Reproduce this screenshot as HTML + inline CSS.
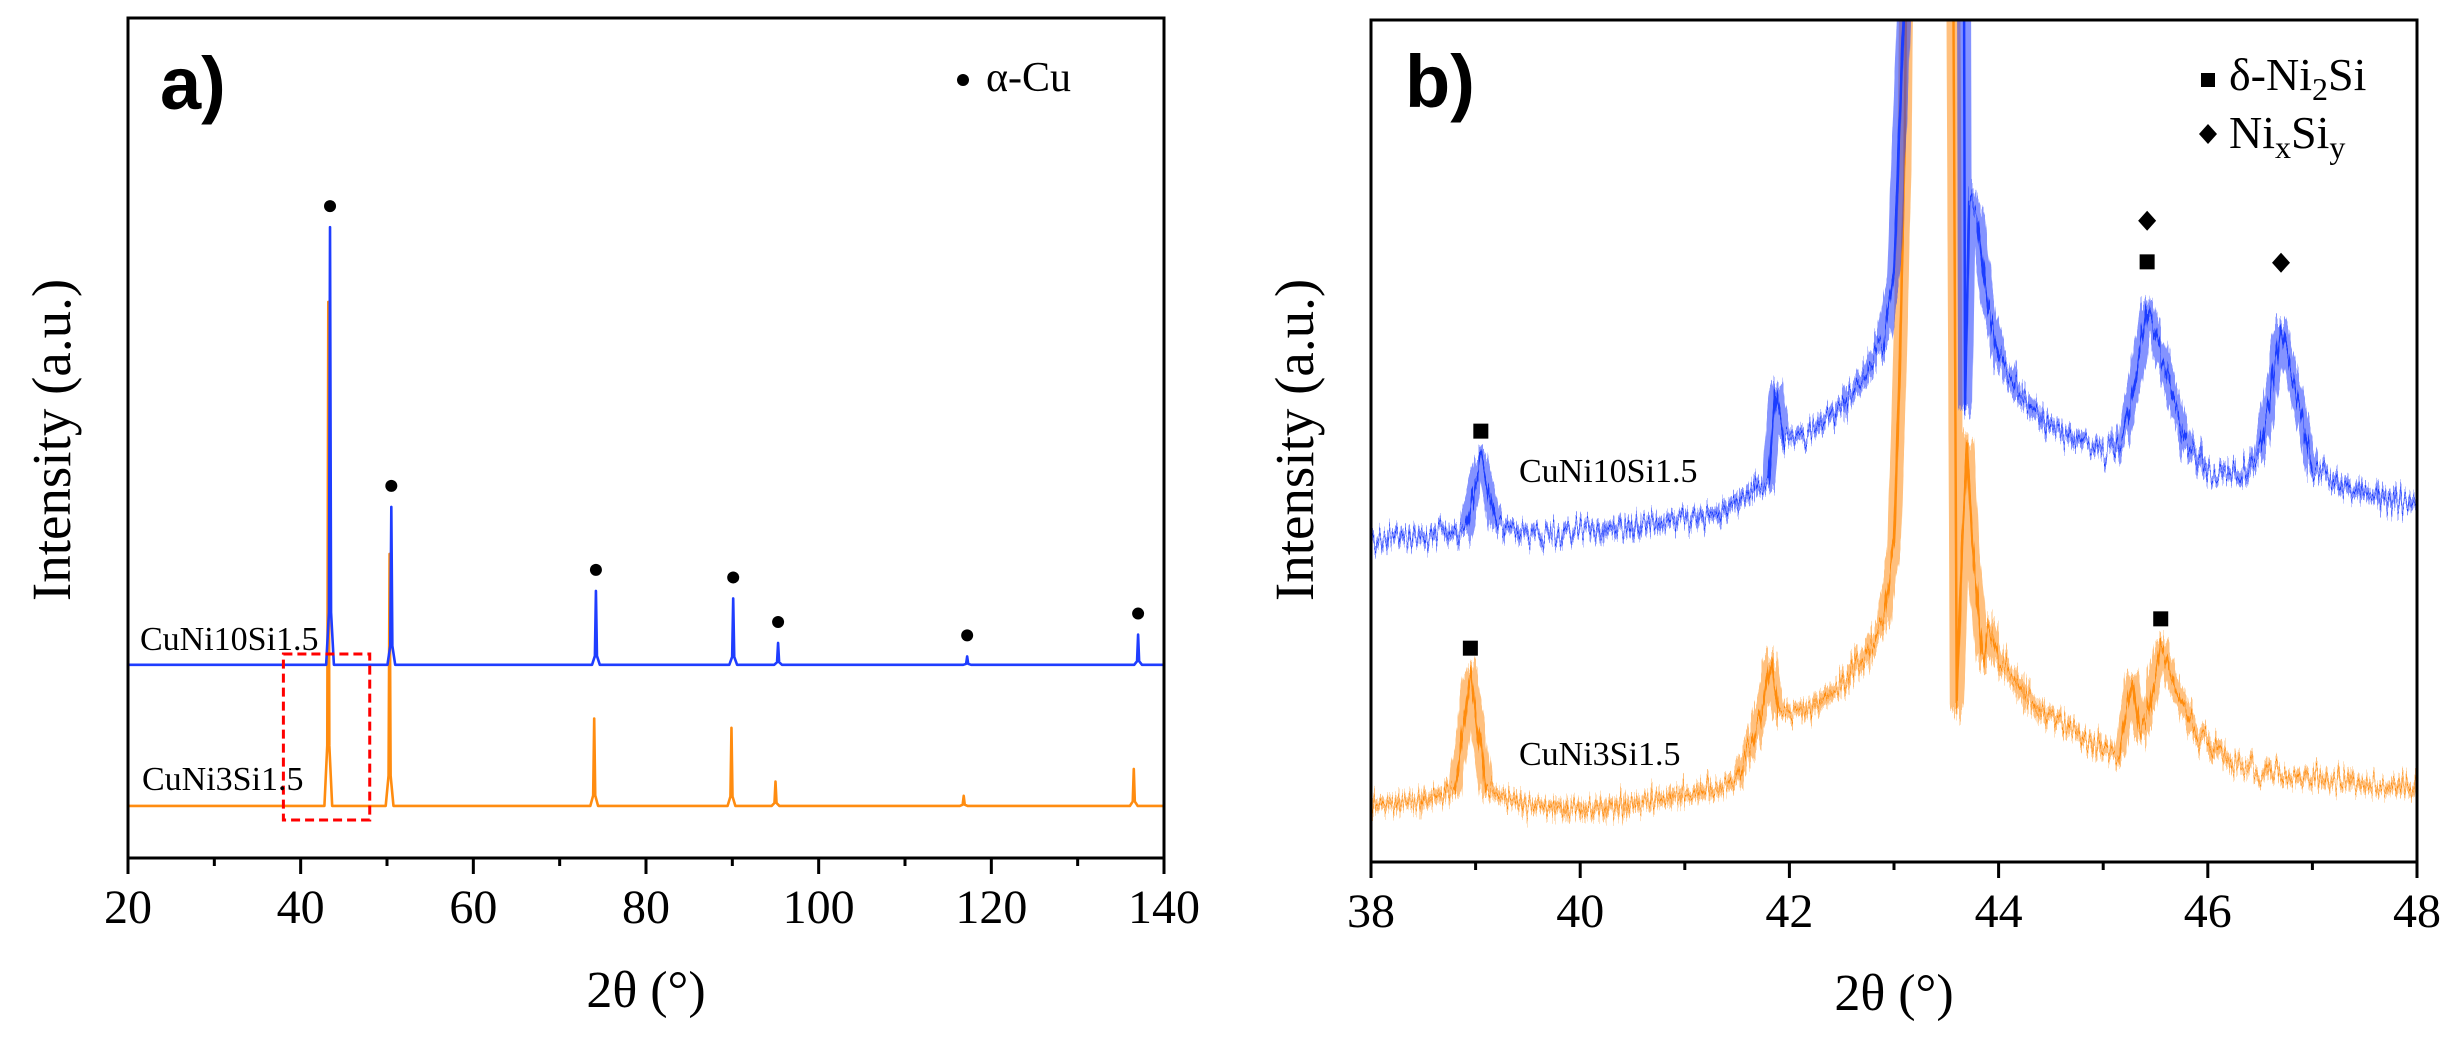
<!DOCTYPE html>
<html><head><meta charset="utf-8"><title>XRD patterns</title>
<style>
html,body{margin:0;padding:0;background:#fff;}
svg{display:block;font-family:"Liberation Serif",serif;}
</style></head>
<body>
<svg id="fig" width="2445" height="1038" viewBox="0 0 2445 1038" xmlns="http://www.w3.org/2000/svg">
<defs>
<clipPath id="clipA"><rect x="128" y="18" width="1036" height="840"/></clipPath>
<clipPath id="clipB"><rect x="1371" y="20" width="1046" height="842"/></clipPath>
<filter id="jitter" x="-5%" y="-20%" width="110%" height="140%">
<feTurbulence type="fractalNoise" baseFrequency="0.45 0.01" numOctaves="2" seed="3" result="n0"/>
<feColorMatrix in="n0" type="matrix" values="0 0 0 0 0.5  0 1.6 0 0 -0.3  0 0 0 0 0  0 0 0 0 1" result="n"/>
<feDisplacementMap in="SourceGraphic" in2="n" scale="30" xChannelSelector="R" yChannelSelector="G"/>
</filter>
</defs>
<rect width="2445" height="1038" fill="#fff"/>
<g id="panelA"></g>
<g id="panelB"></g>
</svg>
<script>
// ---------- Panel a data ----------
const aTicks = [20, 40, 60, 80, 100, 120, 140];
const aMinor = [30, 50, 70, 90, 110, 130];
const blueA_base = 23.0;
const blueA_pos = [43.4, 50.5, 74.2, 90.1, 95.3, 117.2, 137.0];
const blueA_h = [52.1, 18.8, 8.8, 7.9, 2.6, 1.0, 3.6];
const orangeA_base = 6.2;
const orangeA_pos = [43.2, 50.3, 74.0, 89.9, 95.0, 116.8, 136.5];
const orangeA_h = [60, 30, 10.4, 9.3, 2.9, 1.2, 4.4];
// ---------- Panel b data ----------
const bTicks = [38, 40, 42, 44, 46, 48];
const bMinor = [39, 41, 43, 45, 47];
const blueB_x = [38.0,38.5,38.9,39.05,39.2,39.5,40.0,40.5,41.0,41.3,41.6,41.8,41.87,41.95,42.2,42.5,42.7,42.9,43.0,43.1,43.2,43.6,43.66,43.68,43.72,43.8,43.9,44.0,44.2,44.5,44.8,45.1,45.2,45.3,45.42,45.6,45.8,46.0,46.3,46.5,46.6,46.7,46.85,47.0,47.3,47.6,48.0];
const blueB_y = [37.7,37.9,39.0,47.1,39.6,38.3,38.7,39.6,40.3,40.6,43.2,44.5,55.7,49.8,50.5,53.7,57.0,61.6,69.5,102.1,150,150,150,53.7,79,76.0,65.5,59.5,55.0,51.1,49.2,48.1,50.5,56.3,65.5,57.6,49.2,45.8,45.2,48.4,55.0,62.9,55.0,46.5,43.9,43.0,41.9];
const orangeB_x = [38.0,38.5,38.8,38.95,39.1,39.5,40.0,40.5,41.0,41.3,41.5,41.65,41.75,41.82,41.9,42.2,42.5,42.7,42.9,43.0,43.05,43.1,43.15,43.55,43.6,43.65,43.7,43.75,43.85,43.9,44.0,44.3,44.6,45.0,45.15,45.28,45.35,45.45,45.55,45.7,45.9,46.2,46.5,47.0,47.5,48.0];
const orangeB_y = [6.0,6.6,7.9,21.6,7.9,6.0,5.6,6.2,7.3,7.9,9.2,13.7,18.4,22.9,17.1,17.7,20.3,23.6,28.2,36.6,56.3,82.5,150,150,17.7,36.6,49.2,36.6,23.6,27.6,23.6,18.4,15.8,13.1,12.4,21.0,14.4,18.4,25.2,19.7,14.4,11.2,9.9,9.2,8.6,7.9];
const sqB_x = [39.05, 45.42, 38.95, 45.55];
const sqB_y = [50.7, 70.9, 24.8, 28.3];
const diaB_x = [45.42, 46.7];
const diaB_y = [75.8, 70.8];

const NS = "http://www.w3.org/2000/svg";
function mk(parent, tag, attrs, text){
  const e = document.createElementNS(NS, tag);
  for (const k in attrs) e.setAttribute(k, attrs[k]);
  if (text !== undefined) e.textContent = text;
  parent.appendChild(e);
  return e;
}
const BLUE = "#1f3dff", ORANGE = "#ff8c10";

// ---------- Panel a ----------
const A = document.getElementById('panelA');
const xA = v => 128 + (v - 20) * (1036 / 120);
const yA = v => 858 - v * 8.4;

function peakPath(base, pos, h, xs, ys){
  let d = "M" + xs(20) + "," + ys(base);
  pos.forEach((p, i) => {
    d += " L" + xs(p - 0.45) + "," + ys(base);
    d += " L" + xs(p - 0.12) + "," + ys(base + h[i] * 0.12);
    d += " L" + xs(p) + "," + ys(base + h[i]);
    d += " L" + xs(p + 0.12) + "," + ys(base + h[i] * 0.12);
    d += " L" + xs(p + 0.45) + "," + ys(base);
  });
  d += " L" + xs(140) + "," + ys(base);
  return d;
}
const gA = mk(A, 'g', {'clip-path': 'url(#clipA)'});
let p = mk(gA, 'path', {d: peakPath(orangeA_base, orangeA_pos, orangeA_h, xA, yA), fill: 'none', stroke: ORANGE, 'stroke-width': 2.6, 'stroke-linejoin': 'round'});


p = mk(gA, 'path', {d: peakPath(blueA_base, blueA_pos, blueA_h, xA, yA), fill: 'none', stroke: BLUE, 'stroke-width': 2.6, 'stroke-linejoin': 'round'});


blueA_pos.forEach((pp, i) => {
  const c = mk(A, 'circle', {cx: xA(pp), cy: yA(blueA_base + blueA_h[i]) - 21, r: 6, fill: '#000'});
  
  
});
let r = mk(A, 'rect', {x: xA(38), y: 654, width: xA(48) - xA(38), height: 166, fill: 'none', stroke: '#ff0000', 'stroke-width': 3, 'stroke-dasharray': '9 5'});


let t = mk(A, 'text', {x: 140, y: 650, 'font-size': 34, fill: '#000'}, 'CuNi10Si1.5');


t = mk(A, 'text', {x: 142, y: 790, 'font-size': 34, fill: '#000'}, 'CuNi3Si1.5');


r = mk(A, 'rect', {x: 128, y: 18, width: 1036, height: 840, fill: 'none', stroke: '#000', 'stroke-width': 3});


aTicks.forEach(v => {
  const l = mk(A, 'line', {x1: xA(v), x2: xA(v), y1: 858, y2: 874, stroke: '#000', 'stroke-width': 3});
  
  
  const tx = mk(A, 'text', {x: xA(v), y: 923, 'font-size': 48, 'text-anchor': 'middle'}, String(v));
  
  
});
aMinor.forEach(v => {
  const l = mk(A, 'line', {x1: xA(v), x2: xA(v), y1: 858, y2: 866, stroke: '#000', 'stroke-width': 3});
  
  
});
t = mk(A, 'text', {x: 646, y: 1007, 'font-size': 52, 'text-anchor': 'middle'}, '2θ (°)');


t = mk(A, 'text', {x: 0, y: 0, 'font-size': 55, 'text-anchor': 'middle', transform: 'translate(70,440) rotate(-90)'}, 'Intensity (a.u.)');


t = mk(A, 'text', {x: 160, y: 109, 'font-size': 74, 'font-weight': 'bold', 'font-family': 'Liberation Sans, sans-serif'}, 'a)');


const lg = mk(A, 'g', {});


mk(lg, 'circle', {cx: 963, cy: 80, r: 6, fill: '#000'});
mk(lg, 'text', {x: 986, y: 91, 'font-size': 42}, 'α-Cu');

// ---------- Panel b ----------
const B = document.getElementById('panelB');
const xB = v => 1371 + (v - 38) * (1046 / 10);
const yB = v => 856 - v * 8.38;
function linePath(xs, ys){
  return xs.map((v, i) => (i ? 'L' : 'M') + xB(v).toFixed(1) + ',' + yB(ys[i]).toFixed(1)).join(' ');
}
const gB = mk(B, 'g', {'clip-path': 'url(#clipB)'});
[[orangeB_x, orangeB_y, ORANGE, 'cuni3si-pattern-b'], [blueB_x, blueB_y, BLUE, 'cuni10si-pattern-b']].forEach(s => {
  const d = linePath(s[0], s[1]);
  const band = mk(gB, 'path', {d: d, fill: 'none', stroke: s[2], 'stroke-width': 14, 'stroke-opacity': 0.55, 'stroke-linejoin': 'round', filter: 'url(#jitter)'});
  
  
  const ln = mk(gB, 'path', {d: d, fill: 'none', stroke: s[2], 'stroke-width': 2.5, 'stroke-linejoin': 'round', filter: 'url(#jitter)'});
  
  
});
sqB_x.forEach((v, i) => {
  const s = mk(B, 'rect', {x: xB(v) - 7.5, y: yB(sqB_y[i]) - 7.5, width: 15, height: 15, fill: '#000'});
  
  
});
diaB_x.forEach((v, i) => {
  const cx = xB(v), cy = yB(diaB_y[i]);
  const s = mk(B, 'polygon', {points: `${cx},${cy-10} ${cx+9},${cy} ${cx},${cy+10} ${cx-9},${cy}`, fill: '#000'});
  
  
});
t = mk(B, 'text', {x: 1519, y: 482, 'font-size': 34}, 'CuNi10Si1.5');


t = mk(B, 'text', {x: 1519, y: 765, 'font-size': 34}, 'CuNi3Si1.5');


r = mk(B, 'rect', {x: 1371, y: 20, width: 1046, height: 842, fill: 'none', stroke: '#000', 'stroke-width': 3});


bTicks.forEach(v => {
  const l = mk(B, 'line', {x1: xB(v), x2: xB(v), y1: 862, y2: 878, stroke: '#000', 'stroke-width': 3});
  
  
  const tx = mk(B, 'text', {x: xB(v), y: 927, 'font-size': 48, 'text-anchor': 'middle'}, String(v));
  
  
});
bMinor.forEach(v => {
  const l = mk(B, 'line', {x1: xB(v), x2: xB(v), y1: 862, y2: 870, stroke: '#000', 'stroke-width': 3});
  
  
});
t = mk(B, 'text', {x: 1894, y: 1010, 'font-size': 52, 'text-anchor': 'middle'}, '2θ (°)');


t = mk(B, 'text', {x: 0, y: 0, 'font-size': 55, 'text-anchor': 'middle', transform: 'translate(1313,440) rotate(-90)'}, 'Intensity (a.u.)');


t = mk(B, 'text', {x: 1405, y: 107, 'font-size': 74, 'font-weight': 'bold', 'font-family': 'Liberation Sans, sans-serif'}, 'b)');


const lb1 = mk(B, 'g', {});


mk(lb1, 'rect', {x: 2201, y: 73, width: 14, height: 14, fill: '#000'});
const t1 = mk(lb1, 'text', {x: 2229, y: 90, 'font-size': 46});
t1.innerHTML = 'δ-Ni<tspan font-size="32" dy="10">2</tspan><tspan dy="-10">Si</tspan>';
const lb2 = mk(B, 'g', {});


mk(lb2, 'polygon', {points: '2208,124 2217,134 2208,144 2199,134', fill: '#000'});
const t2 = mk(lb2, 'text', {x: 2229, y: 148, 'font-size': 46});
t2.innerHTML = 'Ni<tspan font-size="32" dy="10">x</tspan><tspan dy="-10">Si</tspan><tspan font-size="32" dy="10">y</tspan>';
</script>
</body></html>
